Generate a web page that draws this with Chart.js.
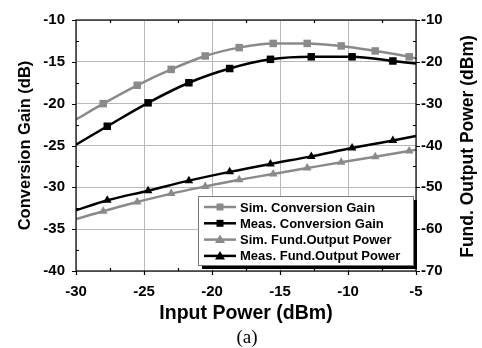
<!DOCTYPE html>
<html>
<head>
<meta charset="utf-8">
<script src="https://cdn.jsdelivr.net/npm/chart.js@4.4.1/dist/chart.umd.min.js"></script>
<style>
  html, body { margin: 0; padding: 0; background: #fff; }
  #wrap { width: 482px; height: 348px; position: relative; }
</style>
</head>
<body>
<div id="wrap"><canvas id="chart" width="482" height="348"></canvas></div>
<script>
// x positions (dBm) and values
const simX = [-30, -28, -25.5, -23, -20.5, -18, -15.5, -13, -10.5, -8, -5.5, -5];
const measX = [-30, -27.7, -24.7, -21.7, -18.7, -15.7, -12.7, -9.7, -6.7, -5];
const simGain = [-21.9, -20.0, -17.8, -15.9, -14.3, -13.3, -12.8, -12.8, -13.1, -13.7, -14.4, -14.6];
const measGain = [-24.9, -22.7, -19.9, -17.5, -15.8, -14.7, -14.4, -14.4, -14.9, -15.2];
const simFund = [-57.6, -55.7, -53.5, -51.5, -49.8, -48.2, -46.8, -45.4, -44.0, -42.7, -41.3, -41.0];
const measFund = [-55.5, -53.1, -50.8, -48.4, -46.3, -44.4, -42.6, -40.6, -38.8, -37.7];

const xTicks = [-30, -25, -20, -15, -10, -5];
const leftTicks = [-40, -35, -30, -25, -20, -15, -10];
const rightTicks = [-70, -60, -50, -40, -30, -20, -10];

const GRAY = '#8a8a8a';
const FAM = '"Liberation Sans", Arial, sans-serif';

const pts = (xs, ys) => xs.map((x, i) => ({ x: x, y: ys[i] }));
const edgeless = (n, r) => ctx => (ctx.dataIndex === 0 || ctx.dataIndex === n - 1) ? 0 : r;

function series(label, xs, ys, color, shape, axis) {
  return {
    label: label,
    data: pts(xs, ys),
    borderColor: color,
    backgroundColor: color,
    borderWidth: 2.5,
    pointStyle: shape,
    pointRadius: edgeless(xs.length, shape === 'rect' ? 5.3 : 5),
    pointBorderWidth: 0,
    tension: 0.35,
    cubicInterpolationMode: 'monotone',
    yAxisID: axis,
  };
}

// frame, ticks, right-hand title, legend box and caption
const decor = {
  id: 'decor',
  afterDraw(chart) {
    const c = chart.ctx;
    const a = chart.chartArea;
    const sx = chart.scales.x, sl = chart.scales.y, sr = chart.scales.y1;
    c.save();
    c.strokeStyle = '#000';
    c.lineWidth = 1.2;
    c.strokeRect(a.left, a.top, a.right - a.left, a.bottom - a.top);
    c.beginPath();
    for (let v = -30; v <= -5; v += 2.5) {
      const px = Math.round(sx.getPixelForValue(v)) + 0.5;
      if (v % 5 === 0) {
        c.moveTo(px, a.bottom); c.lineTo(px, a.bottom + 4);
      } else {
        c.moveTo(px, a.bottom); c.lineTo(px, a.bottom - 3);
        c.moveTo(px, a.top); c.lineTo(px, a.top + 3);
      }
    }
    for (let v = -40; v <= -10; v += 2.5) {
      const py = Math.round(sl.getPixelForValue(v)) + 0.5;
      if (v % 5 === 0) { c.moveTo(a.left - 4, py); c.lineTo(a.left, py); }
      else { c.moveTo(a.left, py); c.lineTo(a.left + 3, py); }
    }
    for (let v = -70; v <= -10; v += 5) {
      const py = Math.round(sr.getPixelForValue(v)) + 0.5;
      if (v % 10 === 0) { c.moveTo(a.right, py); c.lineTo(a.right + 4, py); }
      else { c.moveTo(a.right, py); c.lineTo(a.right - 3, py); }
    }
    c.stroke();

    // right axis title reads bottom-to-top
    c.fillStyle = '#000';
    c.font = 'bold 17.5px ' + FAM;
    c.textAlign = 'center';
    c.textBaseline = 'middle';
    c.translate(468, (a.top + a.bottom) / 2 + 1);
    c.rotate(-Math.PI / 2);
    c.fillText('Fund. Output Power (dBm)', 0, 0);
    c.setTransform(1, 0, 0, 1, 0, 0);

    // legend
    const bx = 198, by = 196, bw = 215, bh = 69;
    c.fillStyle = '#000';
    c.fillRect(bx + 4, by + 4, bw, bh);
    c.fillStyle = '#fff';
    c.fillRect(bx, by, bw, bh);
    c.strokeStyle = '#777';
    c.lineWidth = 1;
    c.strokeRect(bx + 0.5, by + 0.5, bw, bh);
    c.font = 'bold 13px ' + FAM;
    c.textAlign = 'left';
    chart.data.datasets.forEach((ds, i) => {
      const ly = by + 11 + i * 16.3;
      c.strokeStyle = ds.borderColor;
      c.fillStyle = ds.borderColor;
      c.lineWidth = 2.5;
      c.beginPath();
      c.moveTo(bx + 6, ly); c.lineTo(bx + 38, ly);
      c.stroke();
      c.beginPath();
      if (ds.pointStyle === 'rect') {
        c.rect(bx + 22 - 3.5, ly - 3.5, 7, 7);
      } else {
        c.moveTo(bx + 22, ly - 5); c.lineTo(bx + 27, ly + 3.5); c.lineTo(bx + 17, ly + 3.5); c.closePath();
      }
      c.fill();
      c.fillStyle = '#000';
      c.fillText(ds.label, bx + 42, ly + 1);
    });

    // caption
    c.font = '19px "Liberation Serif", "Times New Roman", serif';
    c.textAlign = 'center';
    c.fillText('(a)', 247, 338);
    c.restore();
  }
};

new Chart(document.getElementById('chart'), {
  type: 'line',
  data: {
    datasets: [
      series('Sim. Conversion Gain', simX, simGain, GRAY, 'rect', 'y'),
      series('Meas. Conversion Gain', measX, measGain, '#000', 'rect', 'y'),
      series('Sim. Fund.Output Power', simX, simFund, GRAY, 'triangle', 'y1'),
      series('Meas. Fund.Output Power', measX, measFund, '#000', 'triangle', 'y1'),
    ],
  },
  options: {
    responsive: false,
    animation: false,
    layout: { padding: { top: 18, bottom: 23, left: 0, right: 0 } },
    plugins: { legend: { display: false }, tooltip: { enabled: false } },
    scales: {
      x: {
        type: 'linear', min: -30, max: -5,
        afterBuildTicks: s => { s.ticks = xTicks.map(v => ({ value: v })); },
        afterFit: s => { s.height = 54; },
        grid: { color: '#b8b8b8', lineWidth: 1, drawTicks: false },
        border: { display: false },
        ticks: { color: '#000', font: { family: FAM, size: 15, weight: 'bold' }, padding: 12, maxRotation: 0 },
        title: { display: true, text: 'Input Power (dBm)', color: '#000', font: { family: FAM, size: 19.5, weight: 'bold' }, padding: { top: 0, bottom: 0 } },
      },
      y: {
        position: 'left', min: -40, max: -10,
        afterBuildTicks: s => { s.ticks = leftTicks.map(v => ({ value: v })); },
        afterFit: s => { s.width = 76; },
        grid: { color: '#b8b8b8', lineWidth: 1, drawTicks: false },
        border: { display: false },
        ticks: { color: '#000', font: { family: FAM, size: 15, weight: 'bold' }, padding: 11 },
        title: { display: true, text: 'Conversion Gain (dB)', color: '#000', font: { family: FAM, size: 16.5, weight: 'bold' }, padding: { top: 16, bottom: 0 } },
      },
      y1: {
        position: 'right', min: -70, max: -10,
        afterBuildTicks: s => { s.ticks = rightTicks.map(v => ({ value: v })); },
        afterFit: s => { s.width = 66; },
        grid: { display: false, drawTicks: false },
        border: { display: false },
        ticks: { color: '#000', font: { family: FAM, size: 15, weight: 'bold' }, padding: 5 },
      },
    },
  },
  plugins: [decor],
});
</script>
</body>
</html>
